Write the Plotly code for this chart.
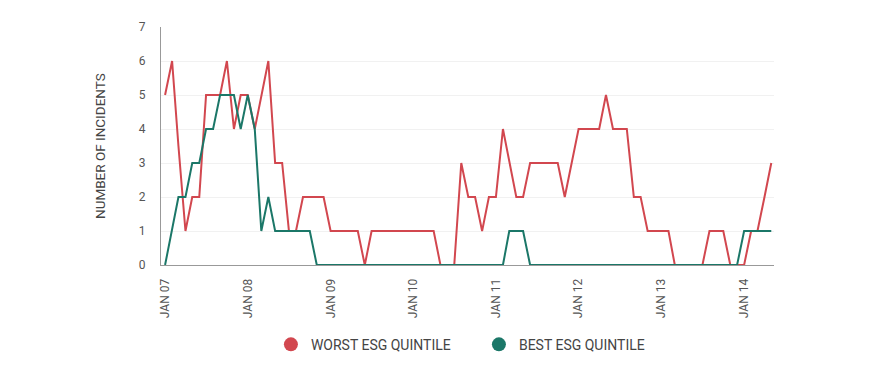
import plotly.graph_objects as go
import pandas as pd

months = pd.date_range("2007-01-01", periods=89, freq="MS")

worst_esg = [5, 6, 3.5, 1, 2, 2, 5, 5, 5, 6, 4, 5, 5, 4, 5, 6, 3, 3, 1, 1,
             2, 2, 2, 2, 1, 1, 1, 1, 1, 0, 1, 1, 1, 1, 1, 1, 1, 1, 1, 1,
             0, 0, 0, 3, 2, 2, 1, 2, 2, 4, 3, 2, 2, 3, 3, 3, 3, 3, 2, 3,
             4, 4, 4, 4, 5, 4, 4, 4, 2, 2, 1, 1, 1, 1, 0, 0, 0, 0, 0, 1,
             1, 1, 0, 0, 0, 1, 1, 2, 3]

best_esg = [0, 1, 2, 2, 3, 3, 4, 4, 5, 5, 5, 4, 5, 4, 1, 2, 1, 1, 1, 1,
            1, 1, 0, 0, 0, 0, 0, 0, 0, 0, 0, 0, 0, 0, 0, 0, 0, 0, 0, 0,
            0, 0, 0, 0, 0, 0, 0, 0, 0, 0, 1, 1, 1, 0, 0, 0, 0, 0, 0, 0,
            0, 0, 0, 0, 0, 0, 0, 0, 0, 0, 0, 0, 0, 0, 0, 0, 0, 0, 0, 0,
            0, 0, 0, 0, 1, 1, 1, 1, 1]

tick_dates = pd.date_range("2007-01-01", periods=8, freq="YS")
tick_labels = ["JAN 07", "JAN 08", "JAN 09", "JAN 10", "JAN 11", "JAN 12", "JAN 13", "JAN 14"]
series_names = ["WORST ESG QUINTILE", "BEST ESG QUINTILE"]

RED = "#d2474f"
GREEN = "#1b7768"
FONT = "Roboto"

fig = go.Figure()
for name, vals, col in [(series_names[0], worst_esg, RED), (series_names[1], best_esg, GREEN)]:
    fig.add_trace(go.Scatter(x=months, y=vals, mode="lines", name=name,
                             line=dict(color=col, width=2), showlegend=False,
                             hoverinfo="x+y"))
# legend entries with circle symbols
for name, col in [(series_names[0], RED), (series_names[1], GREEN)]:
    fig.add_trace(go.Scatter(x=[None], y=[None], mode="markers", name=name,
                             marker=dict(color=col, size=14, symbol="circle")))

# page body has an 8px margin, so the figure is sized/placed to compensate
fig.update_layout(
    width=862, height=365,
    margin=dict(l=153, r=96, t=14, b=106),
    paper_bgcolor="white", plot_bgcolor="white",
    font=dict(family=FONT, color="#555555", size=12),
    showlegend=True,
    legend=dict(orientation="h", x=0.1793, xanchor="left", y=-0.335, yanchor="middle",
                font=dict(family=FONT, size=14, color="#444444"),
                itemwidth=30, tracegroupgap=0, itemsizing="trace",
                entrywidth=163, entrywidthmode="pixels"),
)
fig.update_xaxes(
    range=["2006-12-14", "2014-05-13"],
    tickmode="array", tickvals=tick_dates, ticktext=tick_labels,
    tickangle=-90, tickfont=dict(family=FONT, size=12, color="#555555"),
    showgrid=False, zeroline=False,
    showline=True, linecolor="#999999", linewidth=1,
    ticks="", ticklabelstandoff=8,
)
fig.update_yaxes(
    range=[0, 7], tickmode="array", tickvals=list(range(8)),
    tickfont=dict(family=FONT, size=12, color="#555555"),
    showgrid=True, gridcolor="#f1f1f1", gridwidth=1, zeroline=False,
    showline=True, linecolor="#999999", linewidth=1,
    ticks="", ticklabelstandoff=12,
)
fig.add_annotation(text="NUMBER OF INCIDENTS", xref="paper", yref="paper",
                   x=(100 - 161) / 613, y=0.5, xanchor="center", yanchor="middle",
                   textangle=-90, showarrow=False,
                   font=dict(family=FONT, size=13.5, color="#444444"))

fig.write_html("out.html")
